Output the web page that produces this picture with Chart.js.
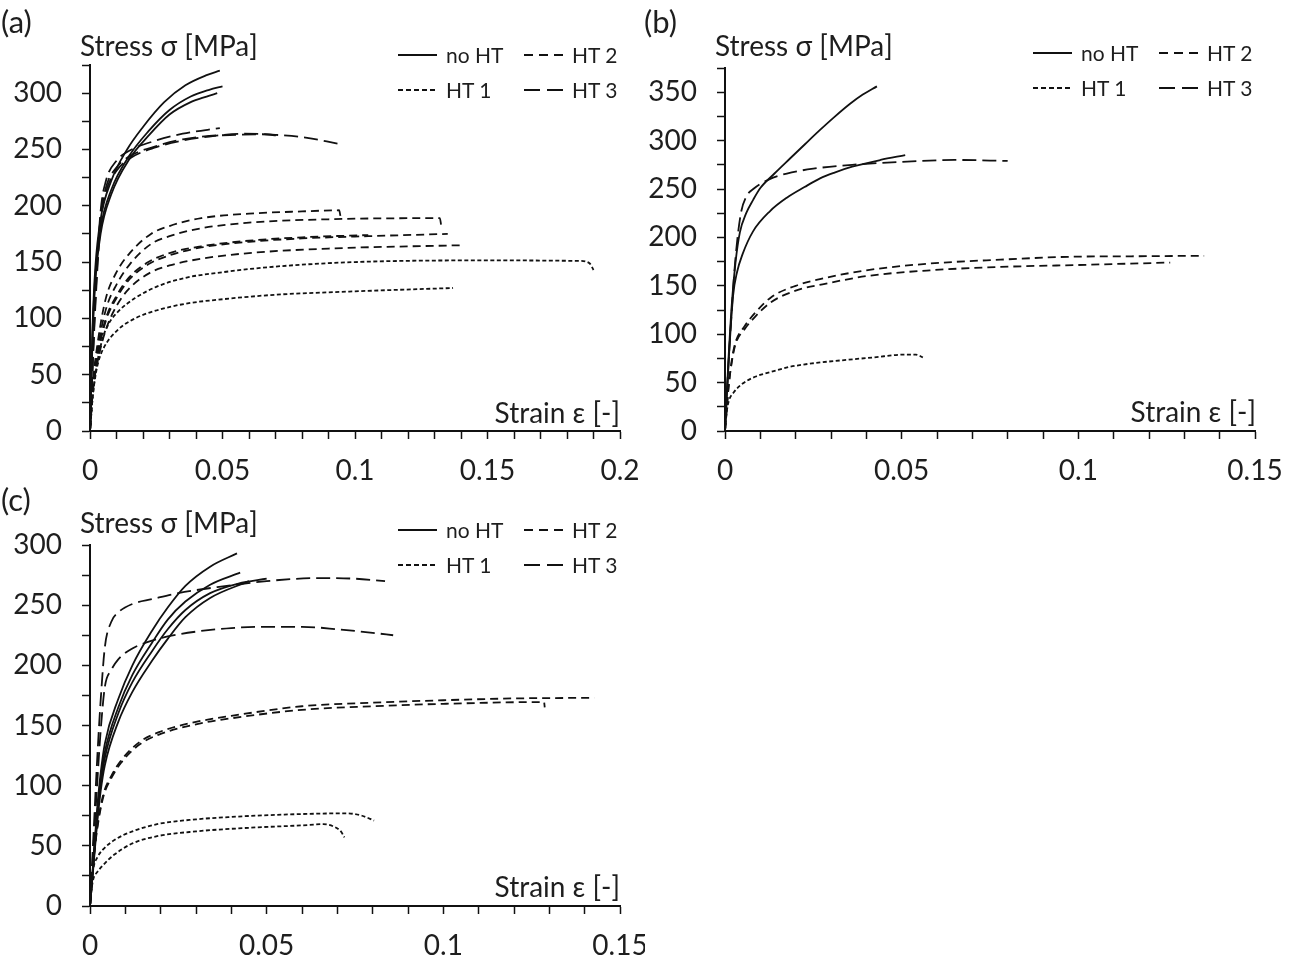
<!DOCTYPE html>
<html>
<head>
<meta charset="utf-8">
<script src="https://cdn.jsdelivr.net/npm/chart.js@4.4.1/dist/chart.umd.min.js"></script>
<style>
  body { margin: 0; background: #fff; width: 1293px; height: 958px; position: relative; overflow: hidden;
         font-family: Lato, "Open Sans", sans-serif; color: #1e1e1e; }
  .panel { position: absolute; }
  .lbl { position: absolute; font-size: 28px; line-height: 32px; white-space: nowrap; }
  .tag { position: absolute; font-size: 31px; line-height: 34px; white-space: nowrap; }
  .leg { position: absolute; font-size: 21px; line-height: 24px; white-space: nowrap; }
  .leg svg { position: absolute; }
</style>
</head>
<body>

<div class="panel" style="left:0;top:0;width:645px;height:480px"><canvas id="chartA"></canvas></div>
<div class="panel" style="left:645px;top:0;width:648px;height:480px"><canvas id="chartB"></canvas></div>
<div class="panel" style="left:0;top:480px;width:645px;height:478px"><canvas id="chartC"></canvas></div>

<div class="tag" style="left:1px;top:4px">(a)</div>
<div class="lbl" style="left:80px;top:29px">Stress σ [MPa]</div>
<div class="lbl" style="right:673px;top:396px">Strain ε [-]</div>

<div class="tag" style="left:644px;top:4px">(b)</div>
<div class="lbl" style="left:715px;top:29px">Stress σ [MPa]</div>
<div class="lbl" style="right:37px;top:395px">Strain ε [-]</div>

<div class="tag" style="left:1px;top:482px">(c)</div>
<div class="lbl" style="left:80px;top:506px">Stress σ [MPa]</div>
<div class="lbl" style="right:673px;top:870px">Strain ε [-]</div>

<script>
// series names (legend order: row 1 = no HT, HT 2 ; row 2 = HT 1, HT 3)
const seriesNames = ['no HT', 'HT 1', 'HT 2', 'HT 3'];

// tick labels
const xLabelsA = ['0', '0.05', '0.1', '0.15', '0.2'];
const xLabelsB = ['0', '0.05', '0.1', '0.15'];
const xLabelsC = ['0', '0.05', '0.1', '0.15'];
const yLabelsA = ['0', '50', '100', '150', '200', '250', '300'];
const yLabelsB = ['0', '50', '100', '150', '200', '250', '300', '350'];
const yLabelsC = ['0', '50', '100', '150', '200', '250', '300'];

// ---- panel (a): [strain, stress] ----
const aNoHT1 = [[0,0],[0.001,95],[0.002,145],[0.004,188],[0.008,222],[0.014,250],[0.02,270],[0.028,292],[0.036,307],[0.044,316],[0.049,320]];
const aNoHT2 = [[0,0],[0.001,90],[0.002,138],[0.004,180],[0.008,214],[0.015,245],[0.022,266],[0.03,285],[0.038,297],[0.045,303],[0.05,306]];
const aNoHT3 = [[0,0],[0.001,85],[0.002,132],[0.004,175],[0.008,210],[0.015,242],[0.022,262],[0.03,281],[0.038,292],[0.044,297],[0.048,300]];
const aHT1_1 = [[0,0],[0.001,30],[0.002,50],[0.0045,80],[0.007,95],[0.0106,106],[0.017,118],[0.025,128],[0.036,136],[0.05,141],[0.07,146],[0.1,150],[0.15,151.5],[0.185,151],[0.1885,149],[0.19,143]];
const aHT1_2 = [[0,0],[0.001,30],[0.002,48],[0.003,60],[0.005,73],[0.0106,90],[0.017,100],[0.025,107],[0.036,113],[0.05,117],[0.07,121],[0.1,124],[0.137,127]];
const aHT2_1 = [[0,0],[0.001,40],[0.003,80],[0.006,118],[0.01,141],[0.015,158],[0.023,175],[0.03,182],[0.042,189],[0.06,193],[0.08,195],[0.094,196],[0.0945,191]];
const aHT2_2 = [[0,0],[0.001,38],[0.003,74],[0.006,108],[0.01,130],[0.015,148],[0.023,166],[0.03,173],[0.042,180],[0.06,185],[0.09,188],[0.132,189],[0.1325,183]];
const aHT2_3 = [[0,0],[0.001,35],[0.003,70],[0.006,100],[0.01,120],[0.015,137],[0.022,150],[0.03,158],[0.042,164],[0.06,169],[0.08,172],[0.105,174]];
const aHT2_4 = [[0,0],[0.001,34],[0.003,68],[0.006,98],[0.01,118],[0.015,135],[0.022,148],[0.03,156],[0.042,163],[0.06,168],[0.08,171],[0.105,173],[0.135,175]];
const aHT2_5 = [[0,0],[0.001,33],[0.003,63],[0.006,90],[0.01,111],[0.015,127],[0.023,141],[0.03,147],[0.042,153],[0.06,158],[0.09,162],[0.141,165]];
const aHT3_1 = [[0,0],[0.002,120],[0.004,195],[0.006,222],[0.01,240],[0.015,249],[0.025,258],[0.035,264],[0.049,269]];
const aHT3_2 = [[0,0],[0.002,115],[0.004,190],[0.006,216],[0.01,234],[0.015,244],[0.025,253],[0.035,259],[0.045,262],[0.055,263],[0.065,263.5],[0.072,262]];
const aHT3_3 = [[0,0],[0.002,110],[0.004,185],[0.006,212],[0.01,231],[0.015,242],[0.025,252],[0.035,258],[0.045,261.5],[0.058,264],[0.07,263],[0.08,261],[0.094,255]];

// ---- panel (b) ----
const bNoHT1 = [[0,0],[0.001,75],[0.002,135],[0.003,175],[0.0042,205],[0.006,225],[0.008,239],[0.01,251],[0.014,266],[0.0184,281.5],[0.0227,296.5],[0.0269,311],[0.031,324.5],[0.0354,338],[0.039,347.5],[0.043,356]];
const bNoHT2 = [[0,0],[0.001,70],[0.0023,140],[0.0034,164],[0.005,183],[0.0079,206],[0.0127,227],[0.0175,241],[0.0225,252],[0.0269,261],[0.031,267],[0.036,273],[0.044,280],[0.051,285]];
const bHT1_1 = [[0,0],[0.0005,20],[0.001,30],[0.0025,40],[0.005,49],[0.0085,56],[0.013,61],[0.018,66],[0.025,70],[0.033,73],[0.042,76],[0.051,79],[0.054,79],[0.056,76]];
const bHT2_1 = [[0,0],[0.001,45],[0.002,75],[0.003,92],[0.0055,108],[0.0085,122],[0.013,138],[0.02,150],[0.0283,158],[0.04,166],[0.058,173],[0.078,177],[0.0977,180],[0.115,180.5],[0.1356,181]];
const bHT2_2 = [[0,0],[0.001,45],[0.002,73],[0.003,90],[0.0055,105],[0.0085,118],[0.013,133],[0.02,145],[0.0283,152],[0.04,160],[0.058,166],[0.078,169.5],[0.1,171.5],[0.126,174]];
const bHT3_1 = [[0,0],[0.001,70],[0.002,130],[0.003,180],[0.0045,225],[0.006,242],[0.008,250],[0.0125,260],[0.0175,266],[0.025,271],[0.036,275],[0.05,278],[0.065,280],[0.08,279]];

// ---- panel (c) ----
const cNoHT1 = [[0,0],[0.001,40],[0.002,80],[0.003,110],[0.0042,135],[0.008,172],[0.012,200],[0.0176,229],[0.022,248],[0.027,266],[0.034,282],[0.0416,293]];
const cNoHT2 = [[0,0],[0.001,38],[0.002,75],[0.003,105],[0.0042,128],[0.008,165],[0.012,192],[0.0176,219],[0.022,238],[0.027,253],[0.034,267],[0.0425,277]];
const cNoHT3 = [[0,0],[0.001,36],[0.002,72],[0.003,100],[0.0042,123],[0.008,160],[0.012,186],[0.0176,212],[0.022,230],[0.027,246],[0.034,260],[0.042,268],[0.05,272]];
const cNoHT4 = [[0,0],[0.001,34],[0.002,68],[0.003,95],[0.0042,117],[0.008,153],[0.012,178],[0.0176,204],[0.022,222],[0.027,240],[0.034,256],[0.045,270]];
const cHT1_1 = [[0,0],[0.0005,20],[0.001,32],[0.002,40],[0.0037,47],[0.007,55],[0.012,62],[0.019,68],[0.03,72],[0.04,74],[0.055,76],[0.0727,77],[0.077,75],[0.0804,71]];
const cHT1_2 = [[0,0],[0.0005,15],[0.001,23],[0.002,28],[0.0037,34],[0.007,43],[0.012,52],[0.019,58],[0.03,62],[0.045,65],[0.06,67],[0.066,68],[0.069,66],[0.071,62],[0.072,57]];
const cHT2_1 = [[0,0],[0.001,40],[0.002,65],[0.0037,92],[0.006,108],[0.0088,121],[0.0139,136],[0.02,145],[0.03,153],[0.04,158],[0.06,166],[0.08,169],[0.1,171],[0.12,172.5],[0.1427,173]];
const cHT2_2 = [[0,0],[0.001,38],[0.002,63],[0.0037,90],[0.006,106],[0.0088,119],[0.0139,134],[0.02,143],[0.03,151],[0.04,156],[0.06,163],[0.08,166],[0.1,168],[0.1285,169.5],[0.1287,165]];
const cHT3_1 = [[0,0],[0.001,60],[0.002,120],[0.003,170],[0.0042,215],[0.006,236],[0.008,244],[0.012,251],[0.0176,255],[0.025,260],[0.036,265],[0.05,270],[0.0645,272.5],[0.075,272],[0.0835,270]];
const cHT3_2 = [[0,0],[0.001,50],[0.002,100],[0.003,145],[0.0042,182],[0.006,196],[0.008,205],[0.012,214],[0.016,219],[0.022,224],[0.03,228],[0.04,231],[0.05,232],[0.06,232],[0.07,230],[0.08,227],[0.0858,225]];

// line dash per series
const dashes = { 'no HT': [], 'HT 1': [4, 2.5], 'HT 2': [8, 5], 'HT 3': [14, 6] };
const legendDash = { 'no HT': 'none', 'HT 1': '5 3', 'HT 2': '9 6', 'HT 3': '16 7' };
const ink = '#111';

function ds(points, kind) {
  return {
    label: kind,
    data: points.map(p => ({ x: p[0], y: p[1] })),
    showLine: true,
    borderColor: ink,
    borderWidth: 1.8,
    borderDash: dashes[kind],
    pointRadius: 0,
    fill: false,
    cubicInterpolationMode: 'monotone'
  };
}

function fmt(v) { return String(+v.toFixed(3)); }

function makeChart(id, datasets, xMax, yMax, xLabels, yLabels, pad) {
  new Chart(document.getElementById(id), {
    type: 'scatter',
    data: { datasets },
    options: {
      responsive: true,
      maintainAspectRatio: false,
      animation: false,
      events: [],
      layout: { padding: { left: 0, top: pad.top, right: pad.right, bottom: 0 } },
      plugins: { legend: { display: false }, tooltip: { enabled: false } },
      scales: {
        x: {
          type: 'linear', min: 0, max: xMax,
          grid: { drawOnChartArea: false, drawTicks: true, tickLength: 8, tickColor: ink, tickWidth: 1.5 },
          border: { display: true, color: ink, width: 2 },
          ticks: {
            stepSize: 0.01, autoSkip: false, maxRotation: 0, padding: 15,
            color: '#1e1e1e', font: { family: 'Lato', size: 28 },
            callback: v => xLabels.includes(fmt(v)) ? fmt(v) : ''
          },
          afterFit: s => { s.height = pad.xh; s.paddingLeft = 0; s.paddingRight = 0; }
        },
        y: {
          type: 'linear', min: 0, max: yMax,
          grid: { drawOnChartArea: false, drawTicks: true, tickLength: 8, tickColor: ink, tickWidth: 1.5 },
          border: { display: true, color: ink, width: 2 },
          ticks: {
            stepSize: 25, autoSkip: false, padding: 20,
            color: '#1e1e1e', font: { family: 'Lato', size: 28 },
            callback: v => yLabels.includes(fmt(v)) ? fmt(v) : ''
          },
          afterFit: s => { s.width = pad.yw; s.paddingTop = 0; s.paddingBottom = 0; }
        }
      }
    }
  });
}

makeChart('chartA', [
  ...[aNoHT1, aNoHT2, aNoHT3].map(p => ds(p, 'no HT')),
  ...[aHT1_1, aHT1_2].map(p => ds(p, 'HT 1')),
  ...[aHT2_1, aHT2_2, aHT2_3, aHT2_4, aHT2_5].map(p => ds(p, 'HT 2')),
  ...[aHT3_1, aHT3_2, aHT3_3].map(p => ds(p, 'HT 3'))
], 0.2, 325, xLabelsA, yLabelsA, { top: 65, right: 25, xh: 49, yw: 90 });

makeChart('chartB', [
  ...[bNoHT1, bNoHT2].map(p => ds(p, 'no HT')),
  ...[bHT1_1].map(p => ds(p, 'HT 1')),
  ...[bHT2_1, bHT2_2].map(p => ds(p, 'HT 2')),
  ...[bHT3_1].map(p => ds(p, 'HT 3'))
], 0.15, 375, xLabelsB, yLabelsB, { top: 68, right: 38, xh: 49, yw: 80 });

makeChart('chartC', [
  ...[cNoHT1, cNoHT2, cNoHT3, cNoHT4].map(p => ds(p, 'no HT')),
  ...[cHT1_1, cHT1_2].map(p => ds(p, 'HT 1')),
  ...[cHT2_1, cHT2_2].map(p => ds(p, 'HT 2')),
  ...[cHT3_1, cHT3_2].map(p => ds(p, 'HT 3'))
], 0.15, 300, xLabelsC, yLabelsC, { top: 65, right: 25, xh: 52, yw: 90 });

// legends: 2 x 2 grid, line sample + text
function legend(x0, row1, row2) {
  const cells = [
    ['no HT', x0, row1], ['HT 2', x0 + 126, row1],
    ['HT 1', x0, row2], ['HT 3', x0 + 126, row2]
  ];
  cells.forEach(([name, x, y]) => {
    const d = document.createElement('div');
    d.className = 'leg';
    d.style.left = x + 'px';
    d.style.top = (y - 12) + 'px';
    d.innerHTML =
      '<svg width="40" height="4" style="left:0;top:10px"><line x1="0" y1="2" x2="39" y2="2" stroke="' + ink +
      '" stroke-width="2" stroke-dasharray="' + legendDash[name] + '"/></svg>' +
      '<span style="position:absolute;left:48px;top:0">' + name + '</span>';
    document.body.appendChild(d);
  });
}
legend(398, 55, 90);
legend(1033, 53, 88);
legend(398, 530, 565);
</script>
</body>
</html>
